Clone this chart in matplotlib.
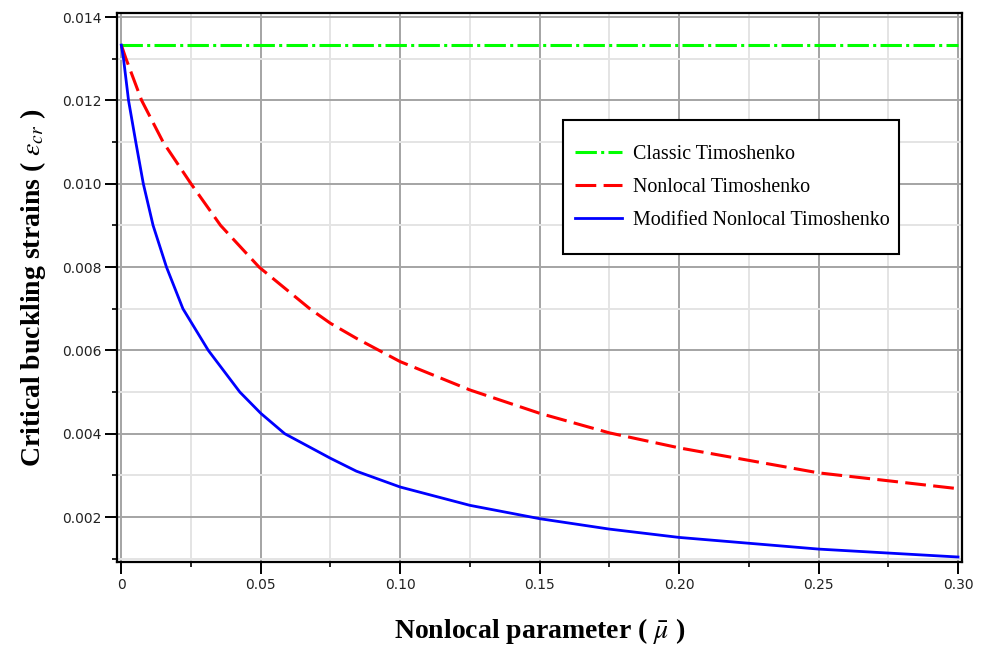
import matplotlib
matplotlib.use("Agg")
import matplotlib.pyplot as plt
from matplotlib.patches import Rectangle
from matplotlib.ticker import MultipleLocator, FixedLocator

# ---- data ----
mu_classic = [0.0, 0.30]
eps_classic = [0.01333, 0.01333]

mu_nonlocal = [0.0, 0.0017, 0.0073, 0.0150, 0.0250, 0.0356, 0.0494, 0.0676, 0.075,
               0.0843, 0.10, 0.125, 0.15, 0.175, 0.20, 0.25, 0.30]
eps_nonlocal = [0.01333, 0.0130, 0.0120, 0.0110, 0.0100, 0.0090, 0.0080, 0.0070,
                0.00665, 0.00629, 0.00573, 0.00505, 0.00449, 0.00402, 0.00366,
                0.00306, 0.00268]

mu_modified = [0.0, 0.0008, 0.0026, 0.0052, 0.0079, 0.0114, 0.0162, 0.0221, 0.0312,
               0.0425, 0.05, 0.0586, 0.075, 0.0843, 0.10, 0.125, 0.15, 0.175, 0.20,
               0.25, 0.30]
eps_modified = [0.01333, 0.0130, 0.0120, 0.0110, 0.0100, 0.0090, 0.0080, 0.0070,
                0.0060, 0.0050, 0.00449, 0.0040, 0.00341, 0.00310, 0.00272, 0.00228,
                0.00196, 0.00171, 0.00151, 0.00123, 0.00104]

x_ticks = [0.0, 0.05, 0.10, 0.15, 0.20, 0.25, 0.30]
x_ticklabels = ["0", "0.05", "0.10", "0.15", "0.20", "0.25", "0.30"]
y_ticks = [0.002, 0.004, 0.006, 0.008, 0.010, 0.012, 0.014]
y_ticklabels = ["0.002", "0.004", "0.006", "0.008", "0.010", "0.012", "0.014"]

labels = ["Classic Timoshenko", "Nonlocal Timoshenko", "Modified Nonlocal Timoshenko"]

plt.rcParams['mathtext.fontset'] = 'stix'

fig = plt.figure(figsize=(9.88, 6.48), dpi=100)
ax = fig.add_axes([117/988, 1-562/648, 845/988, 549/648])

ax.plot(mu_classic, eps_classic, color=(0, 1, 0), lw=2.2,
        dashes=(7, 1.4, 1, 1.4), label=labels[0], zorder=3)
ax.plot(mu_nonlocal, eps_nonlocal, color=(1, 0, 0), lw=2.2,
        dashes=(6.8, 2.4), label=labels[1], zorder=3)
ax.plot(mu_modified, eps_modified, color=(0, 0, 1), lw=2.0,
        label=labels[2], zorder=3)

ax.set_xlim(-0.00154, 0.30143)
ax.set_ylim(0.00092, 0.0141)

ax.xaxis.set_major_locator(FixedLocator(x_ticks))
ax.set_xticklabels(x_ticklabels)
ax.xaxis.set_minor_locator(MultipleLocator(0.025))
ax.yaxis.set_major_locator(FixedLocator(y_ticks))
ax.set_yticklabels(y_ticklabels)
ax.yaxis.set_minor_locator(MultipleLocator(0.001))

ax.grid(which='major', color='#a4a4a4', lw=1.4, zorder=0)
ax.grid(which='minor', color='#e4e4e4', lw=1.4, zorder=0)
ax.set_axisbelow(True)

for s in ax.spines.values():
    s.set_color('black')
    s.set_linewidth(1.6)

ax.tick_params(which='major', direction='out', length=8.3, width=1.4, color='black')
ax.tick_params(which='minor', direction='out', length=3.6, width=1.2, color='black')
ax.tick_params(axis='both', labelsize=10, labelcolor='#222222')
ax.tick_params(axis='y', pad=3)
ax.tick_params(axis='x', pad=3.5)

ax.set_xlabel(r"Nonlocal parameter ( $\bar{\mu}$ )", fontfamily='Liberation Serif',
              fontweight='bold', fontsize=20, labelpad=17)
ax.set_ylabel(r"Critical buckling strains ( $\varepsilon_{cr}$ )", fontfamily='Liberation Serif',
              fontweight='bold', fontsize=20, labelpad=10)

# legend box
rect = Rectangle((563/988, 1-254/648), (899-563)/988, (254-120)/648,
                 transform=fig.transFigure, facecolor='white', edgecolor='black',
                 lw=1.5, zorder=5)
fig.patches.append(rect)
leg = fig.legend(loc='upper left', bbox_to_anchor=(575/988, 1-145.5/648),
                 frameon=False, borderpad=0, borderaxespad=0,
                 prop={'family': 'Liberation Serif', 'size': 14.4},
                 handlelength=2.35, handletextpad=0.55, labelspacing=0.70)
leg.set_zorder(6)

fig.savefig("out.png", dpi=100)
